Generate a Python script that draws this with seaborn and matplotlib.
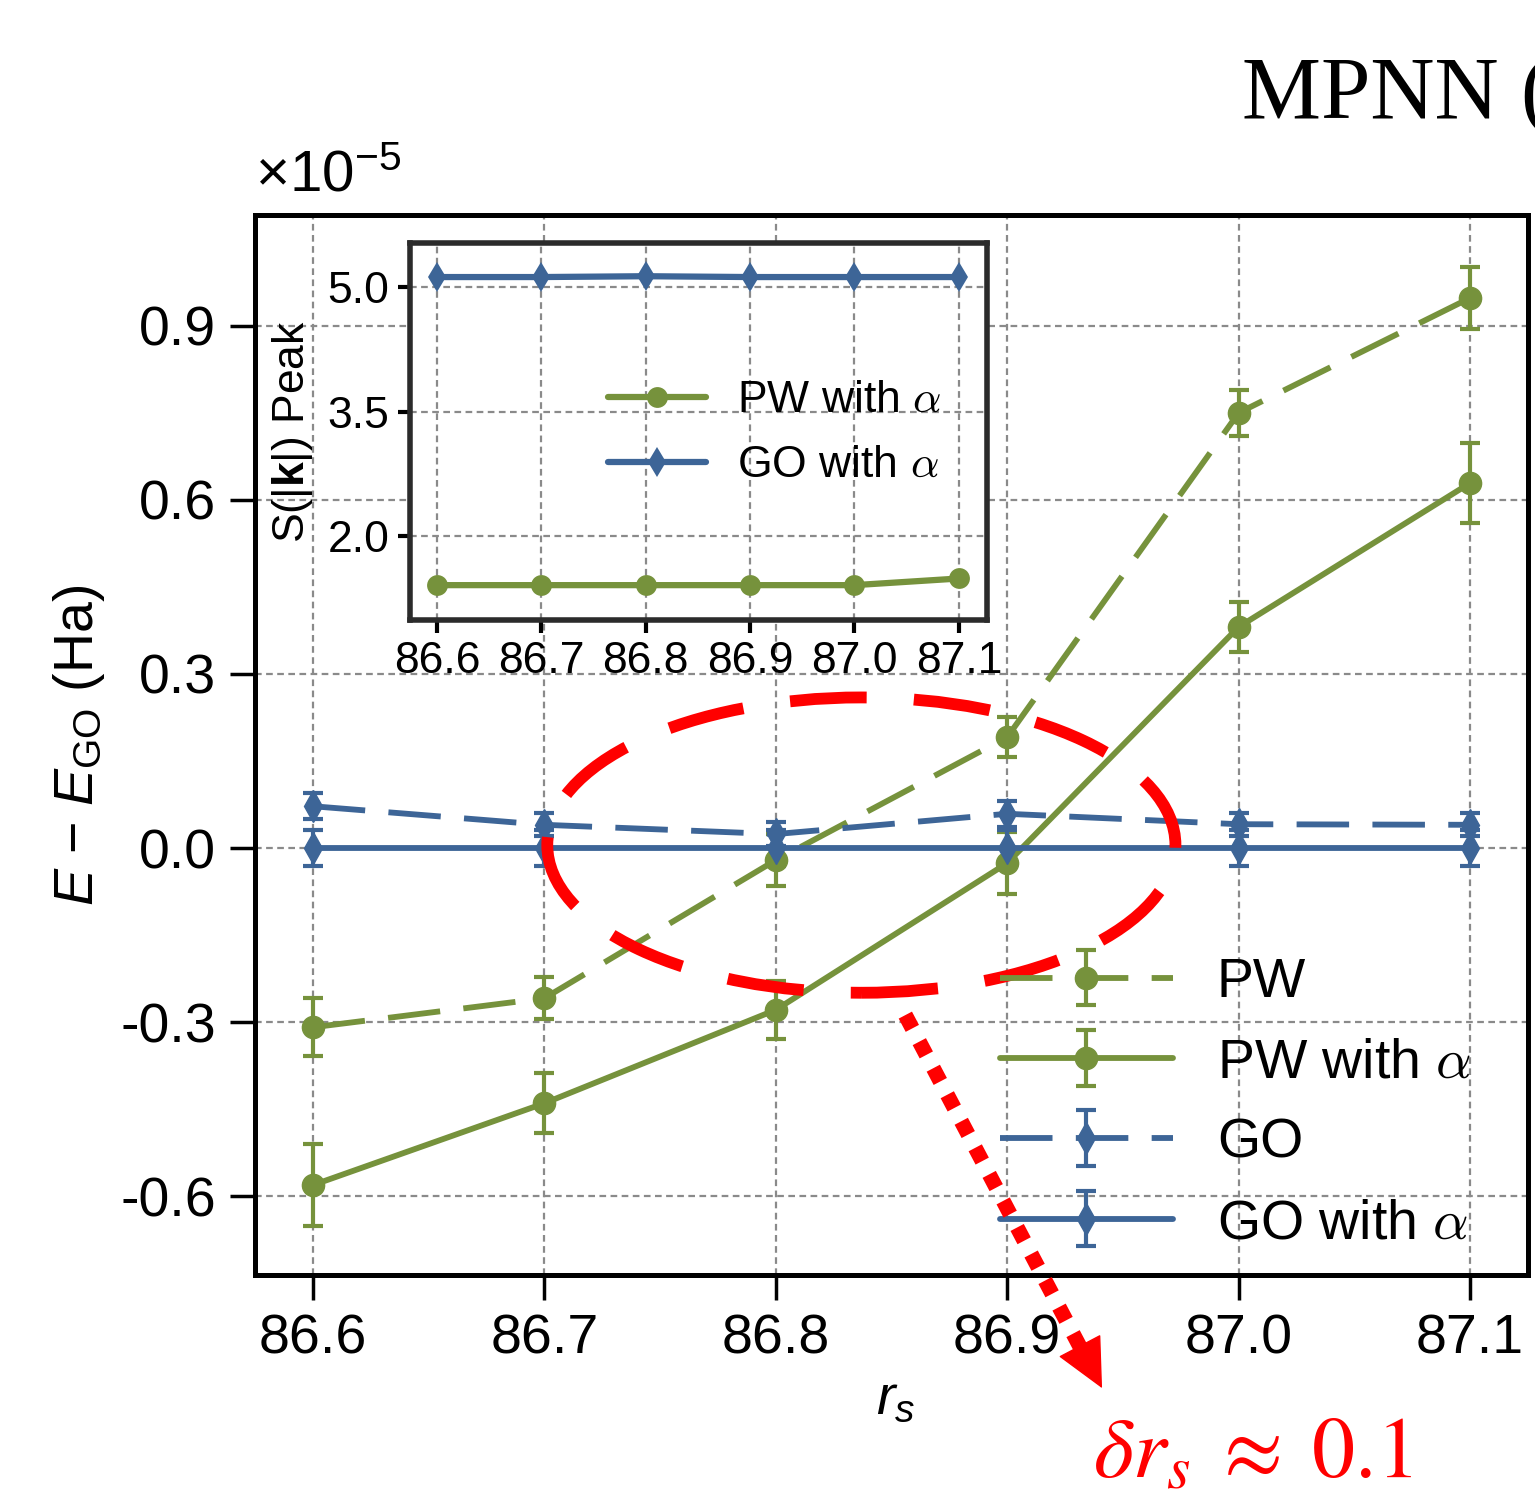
import numpy as np
import matplotlib.pyplot as plt
import seaborn as sns
from matplotlib.patches import Ellipse
from matplotlib.font_manager import FontProperties

# data (energies in units of 1e-5 Ha)
rs = [86.6, 86.7, 86.8, 86.9, 87.0, 87.1]

pw = [-0.309, -0.259, -0.021, 0.191, 0.750, 0.948]
pw_err = [0.050, 0.036, 0.045, 0.035, 0.040, 0.054]
pw_a = [-0.581, -0.440, -0.279, -0.026, 0.381, 0.629]
pw_a_err = [0.070, 0.052, 0.050, 0.053, 0.043, 0.069]
go = [0.072, 0.040, 0.024, 0.059, 0.041, 0.040]
go_err = [0.022, 0.020, 0.020, 0.022, 0.020, 0.020]
go_a = [0.0, 0.0, 0.0, 0.0, 0.0, 0.0]
go_a_err = [0.031, 0.031, 0.031, 0.031, 0.031, 0.031]

# inset: S(|k|) peak height
sk_pw_a = [1.41, 1.41, 1.41, 1.41, 1.41, 1.49]
sk_go_a = [5.12, 5.12, 5.13, 5.12, 5.12, 5.12]

xtick_labels = ['86.6', '86.7', '86.8', '86.9', '87.0', '87.1']
yticks = [-0.6, -0.3, 0.0, 0.3, 0.6, 0.9]
ytick_labels = ['-0.6', '-0.3', '0.0', '0.3', '0.6', '0.9']
inset_yticks = [2.0, 3.5, 5.0]
inset_ytick_labels = ['2.0', '3.5', '5.0']

green = '#76923c'
blue = '#3d6597'

sns.set_theme(style='white')
plt.rcParams['font.family'] = ['Liberation Sans', 'DejaVu Sans']
plt.rcParams['text.color'] = 'black'
plt.rcParams['axes.labelcolor'] = 'black'
plt.rcParams['mathtext.fontset'] = 'custom'
plt.rcParams['mathtext.rm'] = 'Liberation Sans'
plt.rcParams['mathtext.it'] = 'Liberation Sans:italic'
plt.rcParams['mathtext.bf'] = 'Liberation Sans:bold'

fig = plt.figure(figsize=(15.35, 14.89), dpi=100)
ax = fig.add_axes([0.1661, 0.1437, 0.8293, 0.7119])

eb = dict(lw=4.2, markersize=16, capsize=7.5, capthick=3, elinewidth=3)
ax.errorbar(rs, pw, yerr=pw_err, color=green, mec=green, marker='o',
            ls=(0, (9, 4)), label='PW', **eb)
ax.errorbar(rs, pw_a, yerr=pw_a_err, color=green, mec=green, marker='o',
            ls='-', label=r'PW with $\alpha$', **eb)
ax.errorbar(rs, go, yerr=go_err, color=blue, mec=blue, marker='d',
            ls=(0, (9, 4)), label='GO', **eb)
ax.errorbar(rs, go_a, yerr=go_a_err, color=blue, mec=blue, marker='d',
            ls='-', label=r'GO with $\alpha$', **eb)

ax.set_xlim(86.575, 87.125)
ax.set_ylim(-0.736, 1.091)
ax.set_xticks(rs)
ax.set_xticklabels(xtick_labels)
ax.set_yticks(yticks)
ax.set_yticklabels(ytick_labels)
ax.tick_params(direction='out', length=18, width=2.5, labelsize=40, pad=10,
               colors='black', bottom=True, left=True)
ax.grid(True, ls=(0, (3, 2)), lw=1.6, color='#8a8a8a')
for s in ax.spines.values():
    s.set_linewidth(3.6)
    s.set_color('black')

ax.set_ylabel(r'$E$ $-$ $E_{\mathrm{GO}}$ (Ha)', fontsize=40)
ax.yaxis.set_label_coords(-0.116, 0.5)
ax.set_xlabel(r'$r_s$', fontsize=40)
ax.xaxis.set_label_coords(0.503, -0.094)

ax.legend(loc='upper left', bbox_to_anchor=(0.5855, 0.300), frameon=False,
          prop=FontProperties(family='Liberation Sans', size=40,
                              math_fontfamily='cm'),
          handlelength=3.1, handletextpad=0.8, labelspacing=0.51,
          borderpad=0, borderaxespad=0)

# red dashed ellipse and dotted arrow annotation
ell = Ellipse((86.837, 0.005), 0.2714, 0.509, fill=False, edgecolor='red',
              lw=8.5, ls=(0, (6.5, 4)), zorder=5)
ax.add_patch(ell)
ax.plot([86.856, 86.9315], [-0.288, -0.860], color='red', lw=10.8,
        ls=(0, (1, 1)), solid_capstyle='butt', dash_capstyle='butt',
        clip_on=False, zorder=6)
ax.annotate('', xy=(86.941, -0.931), xytext=(86.929, -0.84),
            arrowprops=dict(arrowstyle='-|>,head_length=1.65,head_width=0.8',
                            color='red', lw=1, mutation_scale=20,
                            shrinkA=0, shrinkB=0),
            annotation_clip=False, zorder=6)

fig.text(0.166, 0.872, r'$\times10^{-5}$', fontsize=42, ha='left', va='baseline')
fig.text(0.712, 0.008, r'$\delta r_s \;\approx\; 0.1$', fontsize=62,
         color='red', family='Liberation Serif', math_fontfamily='stix',
         ha='left', va='baseline')
fig.text(0.809, 0.921, 'MPNN (', fontsize=64, family='Liberation Serif',
         ha='left', va='baseline')

# inset
ax2 = fig.add_axes([0.2671, 0.5836, 0.3759, 0.2532])
ax2.set_facecolor('white')
sns.lineplot(x=rs, y=sk_pw_a, ax=ax2, color=green, marker='o', lw=4.5,
             markersize=15, markeredgewidth=0, label=r'PW with $\alpha$')
sns.lineplot(x=rs, y=sk_go_a, ax=ax2, color=blue, marker='d', lw=4.5,
             markersize=15, markeredgewidth=0, label=r'GO with $\alpha$')
ax2.set_xlim(86.574, 87.127)
ax2.set_ylim(0.99, 5.53)
ax2.set_xticks(rs)
ax2.set_xticklabels(xtick_labels)
ax2.set_yticks(inset_yticks)
ax2.set_yticklabels(inset_ytick_labels)
ax2.tick_params(direction='out', length=9, width=3, labelsize=32, pad=6,
                colors='black', bottom=True, left=True)
ax2.grid(True, ls=(0, (3, 2)), lw=1.6, color='#8a8a8a')
for s in ax2.spines.values():
    s.set_linewidth(4)
    s.set_color('#2b2b2b')
ax2.set_ylabel(r'S(|$\mathbf{k}$|) Peak', fontsize=32)
ax2.yaxis.set_label_coords(-0.165, 0.5)
ax2.set_xlabel('')
ax2.legend(loc='upper left', bbox_to_anchor=(0.344, 0.636), frameon=False,
           prop=FontProperties(family='Liberation Sans', size=32,
                               math_fontfamily='cm'),
           handlelength=2.2, handletextpad=0.7, labelspacing=0.54,
           borderpad=0, borderaxespad=0)

fig.savefig('out.png', dpi=100)
